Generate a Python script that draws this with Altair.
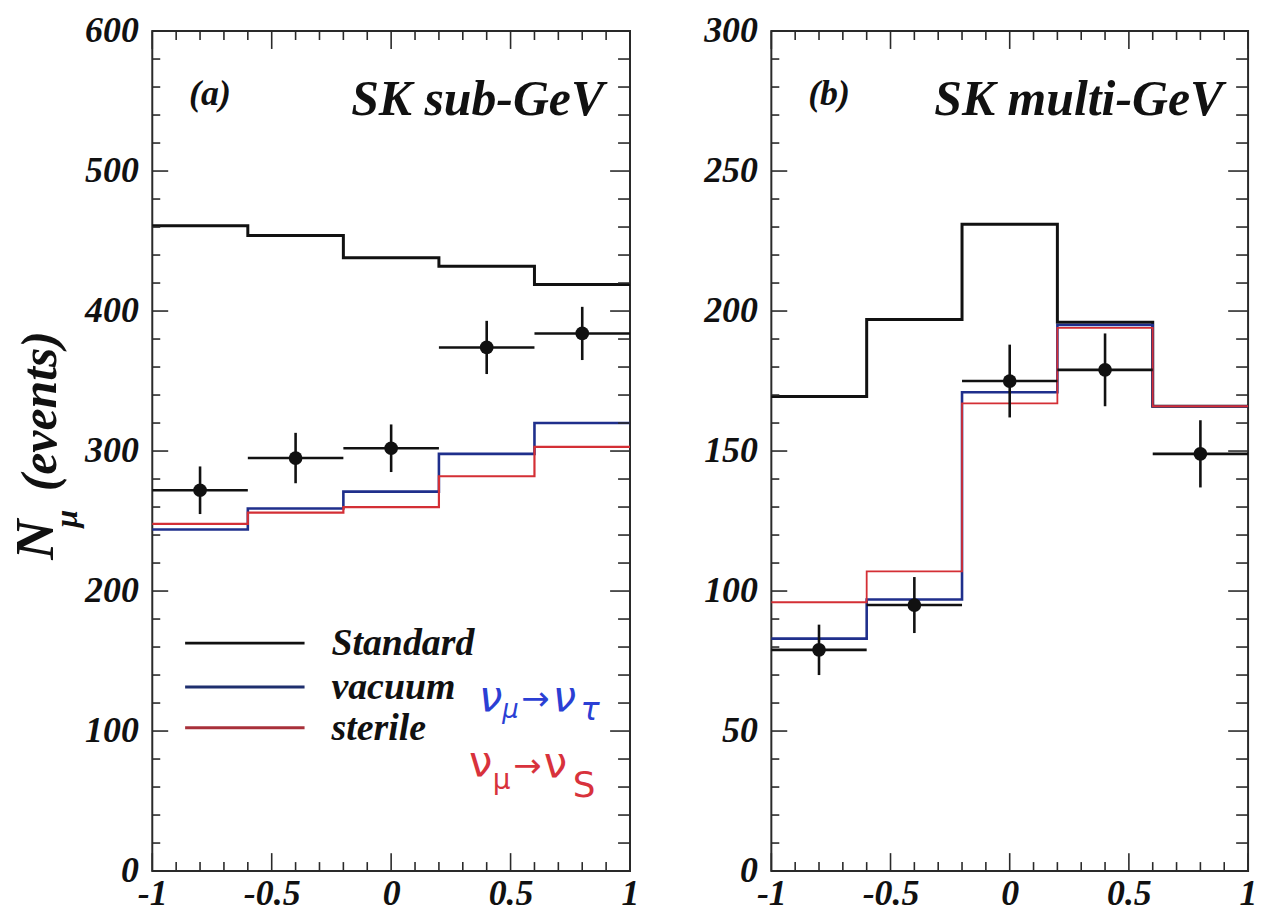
import altair as alt
import pandas as pd
import numpy as np

# Zenith-angle bins (cos theta) shared by both panels
edges = [-1.0, -0.6, -0.2, 0.2, 0.6, 1.0]
centers = [-0.8, -0.4, 0.0, 0.4, 0.8]

# (a) SK sub-GeV
sub_standard = [461, 454, 438, 432, 419]
sub_vacuum = [244, 259, 271, 298, 320]
sub_sterile = [248, 256, 260, 282, 303]
sub_data = [272, 295, 302, 374, 384]
sub_err = [17, 18, 17, 19, 19]

# (b) SK multi-GeV
multi_standard = [169.5, 197, 231, 196, 166]
multi_vacuum = [83, 97, 171, 195, 166]
multi_sterile = [96, 107, 167, 194, 166]
multi_data = [79, 95, 175, 179, 149]
multi_err = [9, 10, 13, 13, 12]

x_ticks = [-1, -0.5, 0, 0.5, 1]
sub_y_ticks = [0, 100, 200, 300, 400, 500, 600]
multi_y_ticks = [0, 50, 100, 150, 200, 250, 300]

legend_labels = ["Standard", "vacuum", "sterile"]

FONT = "Liberation Serif"
BLACK = "#111111"
BLUE = "#1f2f8c"
RED = "#d42f35"
FRAME = "#2a2a2a"


def ptext(text, x, y, size, color=BLACK, align="center", baseline="alphabetic",
          angle=0, style="italic", weight="bold", font=FONT):
    return alt.Chart(pd.DataFrame({"t": [text]})).mark_text(
        align=align, baseline=baseline, fontSize=size, font=font,
        fontStyle=style, fontWeight=weight, color=color, angle=angle
    ).encode(x=alt.value(x), y=alt.value(y), text="t:N")


def panel(W, H, ymax, y_ticks, y_minor_step, standard, vacuum, sterile,
          data, err, tag, title, legend=False, red_width=2.2):
    xs = alt.Scale(domain=[-1, 1], nice=False, zero=False)
    ys = alt.Scale(domain=[0, ymax], nice=False, zero=False)
    xaxis = alt.Axis(values=x_ticks, ticks=False, domain=False, grid=False,
                     title=None, labelFontSize=36, labelPadding=6,
                     labelFont=FONT, labelFontStyle="italic",
                     labelFontWeight="bold", labelColor=BLACK,
                     labelFlush=False, labelOverlap=False,
                     labelExpr="datum.value < 0 ? '-' + format(-datum.value, '~g') : format(datum.value, '~g')")
    yaxis = alt.Axis(values=y_ticks, ticks=False, domain=False, grid=False,
                     title=None, labelFontSize=36, labelPadding=14,
                     labelFont=FONT, labelFontStyle="italic",
                     labelFontWeight="bold", labelColor=BLACK,
                     labelOverlap=False, format="d")

    def X(f):
        return alt.X(f, type="quantitative", scale=xs, axis=xaxis)

    def Y(f):
        return alt.Y(f, type="quantitative", scale=ys, axis=yaxis)

    layers = []

    # step histograms: standard, vacuum (nu_mu -> nu_tau), sterile
    for vals, color, width in [(standard, BLACK, 3.0), (vacuum, BLUE, 2.6),
                               (sterile, RED, red_width)]:
        df = pd.DataFrame({"x": edges, "y": list(vals) + [vals[-1]]})
        layers.append(alt.Chart(df).mark_line(
            interpolate="step-after", color=color, strokeWidth=width,
            strokeCap="butt").encode(x=X("x"), y=Y("y")))

    # data points with error bars
    pts = pd.DataFrame({
        "x": centers, "lo": edges[:-1], "hi": edges[1:], "y": data,
        "ylo": [d - e for d, e in zip(data, err)],
        "yhi": [d + e for d, e in zip(data, err)],
    })
    layers.append(alt.Chart(pts).mark_rule(color=BLACK, strokeWidth=2.6).encode(
        x=X("lo"), x2="hi", y=Y("y")))
    layers.append(alt.Chart(pts).mark_rule(color=BLACK, strokeWidth=2.6).encode(
        x=X("x"), y=Y("ylo"), y2="yhi"))
    layers.append(alt.Chart(pts).mark_circle(color=BLACK, opacity=1, size=190).encode(
        x=X("x"), y=Y("y")))

    # inward ticks on all four sides of the frame
    y_minor = [v for v in np.arange(0, ymax + 0.1, y_minor_step) if v not in y_ticks]
    x_minor = [round(v, 2) for v in np.arange(-1, 1.001, 0.1)
               if round(v, 2) not in x_ticks]
    for vals, length, rlen in [(y_ticks, 16, 20), (y_minor, 8, 12)]:
        df = pd.DataFrame({"v": vals})
        layers.append(alt.Chart(df).mark_rule(color=FRAME, strokeWidth=1.6).encode(
            y=Y("v"), x=alt.value(0), x2=alt.value(length)))
        layers.append(alt.Chart(df).mark_rule(color=FRAME, strokeWidth=1.6).encode(
            y=Y("v"), x=alt.value(W - rlen), x2=alt.value(W)))
    for vals, length in [(x_ticks, 18), (x_minor, 9)]:
        df = pd.DataFrame({"v": vals})
        layers.append(alt.Chart(df).mark_rule(color=FRAME, strokeWidth=1.6).encode(
            x=X("v"), y=alt.value(0), y2=alt.value(length)))
        layers.append(alt.Chart(df).mark_rule(color=FRAME, strokeWidth=1.6).encode(
            x=X("v"), y=alt.value(H - length), y2=alt.value(H)))

    # panel labels
    layers.append(ptext(tag, 37, 74, 36, align="left"))
    layers.append(ptext(title, 454, 84, 50, align="right"))

    if legend:
        ly = [615, 659, 700]
        for label, color, yy in zip(legend_labels, [BLACK, "#1e2f6e", "#a8303a"], ly):
            layers.append(alt.Chart(pd.DataFrame({"t": [label]})).mark_rule(
                color=color, strokeWidth=3).encode(
                x=alt.value(33), x2=alt.value(153), y=alt.value(yy)))
            layers.append(ptext(label, 180, yy + 1, 38, align="left",
                                baseline="middle"))
        # handwritten channel annotations
        hand = "DejaVu Sans"
        bcol, rcol = "#2b3fd4", "#d8323c"
        for g, x, y, s in [("ν", 340, 683, 42), ("μ", 360, 690, 26),
                           ("→", 385, 682, 34), ("ν", 414, 683, 42),
                           ("τ", 440, 692, 32)]:
            layers.append(ptext(g, x, y, s, color=bcol, weight="normal",
                                style="italic", font=hand))
        for g, x, y, s in [("ν", 330, 748, 42), ("μ", 351, 762, 28),
                           ("→", 377, 750, 34), ("ν", 405, 750, 42),
                           ("S", 434, 770, 36)]:
            layers.append(ptext(g, x, y, s, color=rcol, weight="normal",
                                style="normal", font=hand))
        # y-axis title N_mu (events), reading upward
        layers.append(ptext("N", -117, 511, 56, baseline="middle", angle=270))
        layers.append(ptext("μ", -86, 490, 32, baseline="middle", angle=270))
        layers.append(ptext("(events)", -112, 382, 50, baseline="middle", angle=270))

    return alt.layer(*layers).properties(width=W, height=H)


left = panel(480, 844, 600, sub_y_ticks, 20, sub_standard, sub_vacuum,
             sub_sterile, sub_data, sub_err, "(a)", "SK sub-GeV", legend=True)
right = panel(479, 844, 300, multi_y_ticks, 10, multi_standard, multi_vacuum,
              multi_sterile, multi_data, multi_err, "(b)", "SK multi-GeV",
              red_width=1.8)

chart = alt.hconcat(left, right, spacing=142, bounds="flush").configure_view(
    stroke=FRAME, strokeWidth=2
).properties(
    padding={"left": 7, "top": 10, "right": 5, "bottom": 5},
    background="white",
)

chart.save("out.html", embed_options={"renderer": "svg", "actions": False})
